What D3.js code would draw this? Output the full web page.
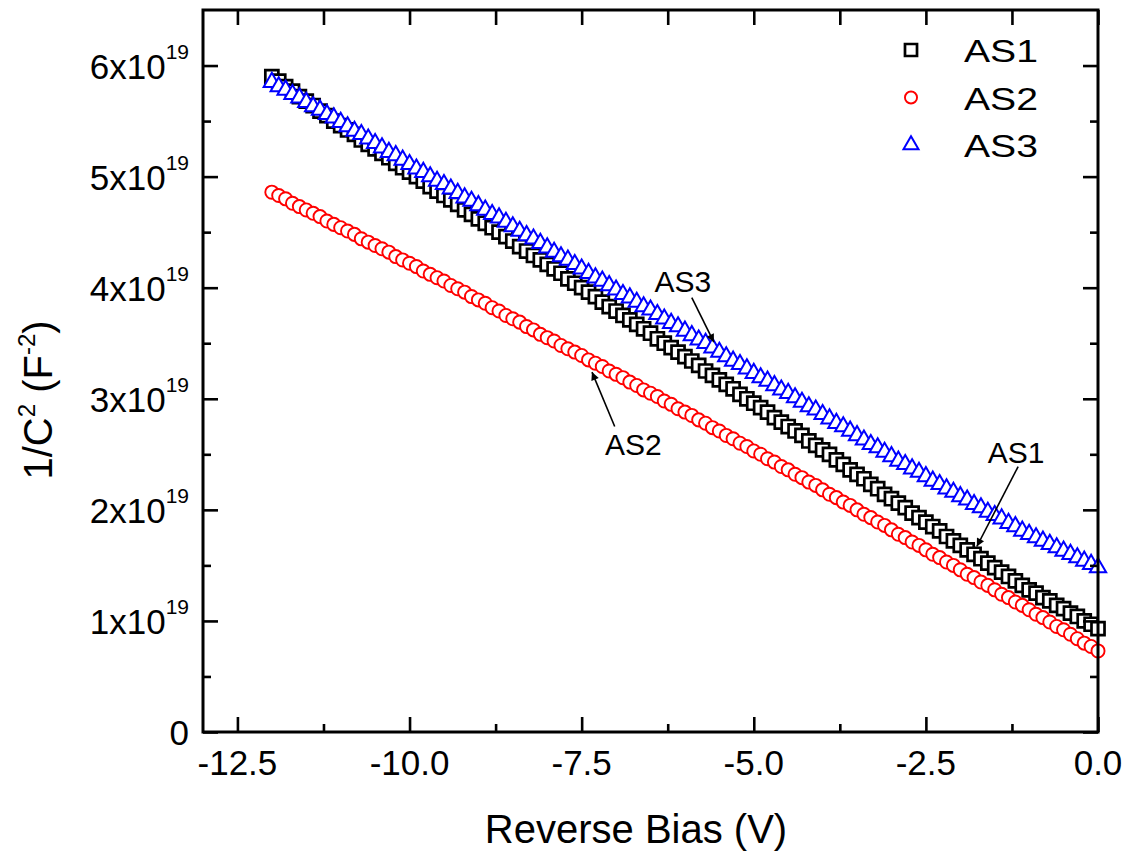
<!DOCTYPE html>
<html>
<head>
<meta charset="utf-8">
<script src="https://cdn.jsdelivr.net/npm/d3@7"></script>
<style>
  html, body { margin: 0; padding: 0; background: #fff; }
  svg { display: block; font-family: "Liberation Sans", Arial, sans-serif; }
</style>
</head>
<body>
<svg id="chart" width="1130" height="855"></svg>
<script>
// Mott-Schottky data: 1/C^2 (in units of 1e19 F^-2) versus reverse bias, 0.1 V steps from -12 V to 0 V
const bias = d3.range(121).map(i => +(-12 + i * 0.1).toFixed(1));

const as1 = [
  5.90, 5.86, 5.81, 5.77, 5.72, 5.68, 5.64, 5.59, 5.55, 5.50,
  5.46, 5.42, 5.38, 5.33, 5.29, 5.25, 5.21, 5.17, 5.12, 5.08,
  5.04, 5.00, 4.96, 4.91, 4.87, 4.83, 4.79, 4.75, 4.70, 4.66,
  4.62, 4.58, 4.54, 4.50, 4.46, 4.42, 4.37, 4.33, 4.29, 4.25,
  4.21, 4.17, 4.13, 4.08, 4.04, 4.00, 3.96, 3.92, 3.87, 3.83,
  3.79, 3.75, 3.71, 3.67, 3.63, 3.59, 3.54, 3.50, 3.46, 3.42,
  3.38, 3.34, 3.30, 3.25, 3.21, 3.17, 3.13, 3.09, 3.04, 3.00,
  2.96, 2.92, 2.88, 2.83, 2.79, 2.75, 2.71, 2.67, 2.62, 2.58,
  2.54, 2.50, 2.45, 2.41, 2.36, 2.32, 2.28, 2.23, 2.19, 2.14,
  2.10, 2.06, 2.02, 1.97, 1.93, 1.89, 1.85, 1.81, 1.76, 1.72,
  1.68, 1.64, 1.60, 1.56, 1.52, 1.48, 1.44, 1.40, 1.36, 1.32,
  1.28, 1.25, 1.21, 1.18, 1.14, 1.11, 1.07, 1.04, 1.00, 0.97, 0.93
];

const as2 = [
  4.86, 4.83, 4.80, 4.76, 4.73, 4.70, 4.67, 4.64, 4.60, 4.57,
  4.54, 4.51, 4.48, 4.44, 4.41, 4.38, 4.35, 4.32, 4.28, 4.25,
  4.22, 4.19, 4.15, 4.12, 4.09, 4.06, 4.02, 3.99, 3.96, 3.92,
  3.89, 3.86, 3.82, 3.79, 3.75, 3.72, 3.69, 3.65, 3.62, 3.58,
  3.55, 3.52, 3.48, 3.45, 3.42, 3.39, 3.35, 3.32, 3.29, 3.25,
  3.22, 3.19, 3.15, 3.12, 3.08, 3.05, 3.02, 2.98, 2.95, 2.91,
  2.88, 2.85, 2.81, 2.78, 2.74, 2.71, 2.67, 2.64, 2.60, 2.57,
  2.53, 2.50, 2.46, 2.43, 2.39, 2.36, 2.32, 2.29, 2.25, 2.22,
  2.18, 2.14, 2.11, 2.07, 2.04, 2.00, 1.96, 1.93, 1.89, 1.86,
  1.82, 1.78, 1.75, 1.71, 1.68, 1.64, 1.60, 1.57, 1.53, 1.50,
  1.46, 1.42, 1.39, 1.35, 1.32, 1.28, 1.24, 1.21, 1.17, 1.14,
  1.10, 1.06, 1.03, 0.99, 0.95, 0.92, 0.88, 0.84, 0.80, 0.77, 0.73
];

const as3 = [
  5.85, 5.81, 5.78, 5.74, 5.71, 5.67, 5.63, 5.60, 5.56, 5.53,
  5.49, 5.45, 5.41, 5.38, 5.34, 5.30, 5.26, 5.22, 5.19, 5.15,
  5.11, 5.07, 5.04, 5.00, 4.96, 4.93, 4.89, 4.85, 4.81, 4.78,
  4.74, 4.70, 4.66, 4.63, 4.59, 4.55, 4.51, 4.47, 4.44, 4.40,
  4.36, 4.32, 4.28, 4.25, 4.21, 4.17, 4.13, 4.09, 4.06, 4.02,
  3.98, 3.94, 3.91, 3.87, 3.83, 3.80, 3.76, 3.72, 3.68, 3.65,
  3.61, 3.57, 3.53, 3.50, 3.46, 3.42, 3.38, 3.34, 3.31, 3.27,
  3.23, 3.19, 3.16, 3.12, 3.08, 3.05, 3.01, 2.97, 2.93, 2.90,
  2.86, 2.82, 2.78, 2.75, 2.71, 2.67, 2.63, 2.59, 2.56, 2.52,
  2.48, 2.44, 2.41, 2.37, 2.34, 2.30, 2.26, 2.23, 2.19, 2.16,
  2.12, 2.09, 2.05, 2.02, 1.98, 1.95, 1.92, 1.88, 1.85, 1.81,
  1.78, 1.75, 1.72, 1.69, 1.66, 1.63, 1.60, 1.57, 1.54, 1.51, 1.48
];

const seriesNames = ["AS1", "AS2", "AS3"];
const seriesColors = ["#000000", "#ff0000", "#0000ff"];

const xTicks = [-12.5, -10.0, -7.5, -5.0, -2.5, 0.0];
const xMinorTicks = [-11.25, -8.75, -6.25, -3.75, -1.25];
const yTicks = [0, 1, 2, 3, 4, 5, 6];
const yMinorTicks = [0.5, 1.5, 2.5, 3.5, 4.5, 5.5];
const yExponent = "19";

// annotation labels with arrows, in data coordinates [bias, value]
const notes = [
  { text: "AS3", at: [-6.03, 3.96], from: [-5.90, 3.91], to: [-5.58, 3.51] },
  { text: "AS2", at: [-6.75, 2.49], from: [-7.02, 2.75], to: [-7.35, 3.24] },
  { text: "AS1", at: [-1.19, 2.42], from: [-1.16, 2.39], to: [-1.76, 1.67] }
];

const plot = { left: 203, right: 1098, top: 10, bottom: 732 };

const svg = d3.select("#chart");
const x = d3.scaleLinear().domain([-13, 0]).range([plot.left, plot.right]);
const y = d3.scaleLinear().domain([0, 6.5]).range([plot.bottom, plot.top]);

const shapes = [d3.symbolSquare, d3.symbolCircle, d3.symbolTriangle];
const sizes = [170, 135, 115];
const strokeW = [2.7, 1.9, 2.0];

// data markers: open symbols with white fill, drawn left to right
const allSeries = [as1, as2, as3];
allSeries.forEach((vals, k) => {
  const sym = d3.symbol().type(shapes[k]).size(sizes[k]);
  svg.append("g")
    .selectAll("path")
    .data(bias.map((b, i) => [b, vals[i]]))
    .join("path")
    .attr("transform", d => `translate(${x(d[0])},${y(d[1])})`)
    .attr("d", sym)
    .attr("fill", "#fff")
    .attr("stroke", seriesColors[k])
    .attr("stroke-width", strokeW[k]);
});

// axes: ticks point inward on all four sides
const axW = 2.6;
function styleAxis(g) {
  g.select(".domain").remove();
  g.selectAll(".tick line").attr("stroke", "#000").attr("stroke-width", axW);
  g.selectAll(".tick text").remove();
}
svg.append("g").attr("transform", `translate(0,${plot.bottom})`)
  .call(d3.axisBottom(x).tickValues(xTicks).tickSize(-15).tickFormat("")).call(styleAxis);
svg.append("g").attr("transform", `translate(0,${plot.bottom})`)
  .call(d3.axisBottom(x).tickValues(xMinorTicks).tickSize(-8).tickFormat("")).call(styleAxis);
svg.append("g").attr("transform", `translate(0,${plot.top})`)
  .call(d3.axisTop(x).tickValues(xTicks).tickSize(-15).tickFormat("")).call(styleAxis);
svg.append("g").attr("transform", `translate(0,${plot.top})`)
  .call(d3.axisTop(x).tickValues(xMinorTicks).tickSize(-15).tickFormat("")).call(styleAxis);
svg.append("g").attr("transform", `translate(${plot.left},0)`)
  .call(d3.axisLeft(y).tickValues(yTicks).tickSize(-15).tickFormat("")).call(styleAxis);
svg.append("g").attr("transform", `translate(${plot.left},0)`)
  .call(d3.axisLeft(y).tickValues(yMinorTicks).tickSize(-8).tickFormat("")).call(styleAxis);
svg.append("g").attr("transform", `translate(${plot.right},0)`)
  .call(d3.axisRight(y).tickValues(yTicks).tickSize(-15).tickFormat("")).call(styleAxis);
svg.append("g").attr("transform", `translate(${plot.right},0)`)
  .call(d3.axisRight(y).tickValues(yMinorTicks).tickSize(-8).tickFormat("")).call(styleAxis);

svg.append("rect")
  .attr("x", plot.left).attr("y", plot.top)
  .attr("width", plot.right - plot.left).attr("height", plot.bottom - plot.top)
  .attr("fill", "none").attr("stroke", "#000").attr("stroke-width", 3);

// x tick labels (plain hyphen for the minus sign)
svg.append("g").selectAll("text").data(xTicks).join("text")
  .attr("x", d => x(d)).attr("y", 775)
  .attr("text-anchor", "middle").attr("font-size", 35)
  .text(d => d.toFixed(1));

// y tick labels with power-of-ten superscript
const yl = svg.append("g").selectAll("text").data(yTicks).join("text")
  .attr("x", 189).attr("y", d => y(d) + 13)
  .attr("text-anchor", "end").attr("font-size", 35);
yl.each(function(d) {
  const t = d3.select(this);
  if (d === 0) { t.text("0"); return; }
  t.append("tspan").text(d + "x10");
  t.append("tspan").attr("font-size", 21).attr("dy", -20).text(yExponent);
});

// axis titles
svg.append("text")
  .attr("x", 636).attr("y", 843).attr("text-anchor", "middle").attr("font-size", 40)
  .text("Reverse Bias (V)");

const yt = svg.append("text")
  .attr("transform", "translate(52,400) rotate(-90)")
  .attr("text-anchor", "middle").attr("font-size", 40);
yt.append("tspan").text("1/C");
yt.append("tspan").attr("font-size", 24).attr("dy", -17).text("2");
yt.append("tspan").attr("dy", 17).text(" (F");
yt.append("tspan").attr("font-size", 24).attr("dy", -17).text("-2");
yt.append("tspan").attr("dy", 17).text(")");

// legend
const legend = svg.append("g");
seriesNames.forEach((name, k) => {
  const cy = 50 + k * 47.5;
  legend.append("path")
    .attr("transform", `translate(911,${cy})`)
    .attr("d", d3.symbol().type(shapes[k]).size(sizes[k] * 0.85))
    .attr("fill", "#fff").attr("stroke", seriesColors[k]).attr("stroke-width", strokeW[k]);
  legend.append("text")
    .attr("x", 964).attr("y", cy + 12)
    .attr("font-size", 31)
    .attr("textLength", 74).attr("lengthAdjust", "spacingAndGlyphs")
    .text(name);
});

// arrow head
svg.append("defs").append("marker")
  .attr("id", "head").attr("viewBox", "0 0 10 10")
  .attr("refX", 10).attr("refY", 5)
  .attr("markerWidth", 14).attr("markerHeight", 8)
  .attr("markerUnits", "userSpaceOnUse")
  .attr("orient", "auto")
  .append("path").attr("d", "M0,0 L10,5 L0,10 z").attr("fill", "#000");

notes.forEach(n => {
  svg.append("text")
    .attr("x", x(n.at[0])).attr("y", y(n.at[1]))
    .attr("text-anchor", "middle").attr("font-size", 30)
    .text(n.text);
  svg.append("line")
    .attr("x1", x(n.from[0])).attr("y1", y(n.from[1]))
    .attr("x2", x(n.to[0])).attr("y2", y(n.to[1]))
    .attr("stroke", "#000").attr("stroke-width", 1.6)
    .attr("marker-end", "url(#head)");
});
</script>
</body>
</html>
